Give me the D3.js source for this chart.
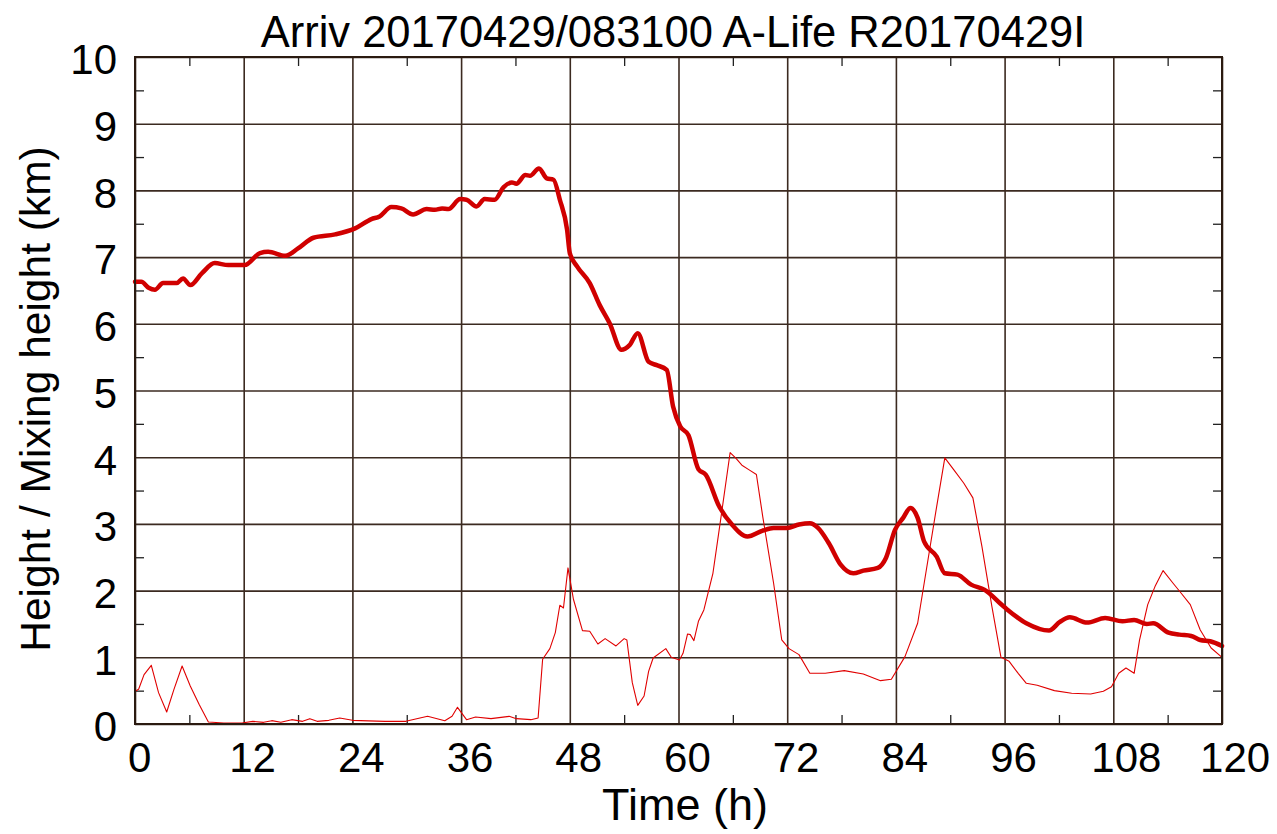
<!DOCTYPE html>
<html><head><meta charset="utf-8">
<script src="https://cdn.jsdelivr.net/npm/d3@7"></script>
<style>
html,body{margin:0;padding:0;background:#fff;}
text{font-family:"Liberation Sans",Arial,sans-serif;fill:#000;}
</style></head>
<body><svg id="c" width="1277" height="834"></svg>
<script>
const titleText = "Arriv 20170429/083100 A-Life R20170429I";
const xLabel = "Time (h)";
const yLabel = "Height / Mixing height (km)";
const xTicks = [0,12,24,36,48,60,72,84,96,108,120];
const yTicks = [0,1,2,3,4,5,6,7,8,9,10];
const xMinor = [6,18,30,42,54,66,78,90,102,114];
const yMinor = [0.5,1.5,2.5,3.5,4.5,5.5,6.5,7.5,8.5,9.5];

// trajectory height (thick)
const trajT = [0,0.7,1.5,2.2,3.1,4.6,5.3,6.1,7.4,8.8,10.3,12.1,13.8,14.7,16.6,18.0,19.7,22.1,24.3,26.1,27.0,28.3,29.4,30.7,32.2,33.1,33.9,34.6,35.9,36.6,37.7,38.6,39.7,40.7,41.6,42.1,43.1,43.6,44.6,45.45,46.2,46.9,47.7,48.0,48.8,50.2,51.3,52.4,53.7,54.6,55.5,56.7,57.6,58.7,59.4,60.2,61.1,62.2,63.0,64.5,65.9,67.6,69.3,70.5,72.0,73.3,74.5,75.4,76.6,77.9,79.3,80.4,82.0,82.9,83.9,84.8,85.6,86.4,87.1,88.5,89.4,90.8,92.3,93.8,95.9,98.4,100.9,102.1,103.2,105.1,107.1,109.0,110.3,111.7,112.4,114.1,115.3,116.6,117.6,118.7,120];
const trajH = [6.63,6.63,6.54,6.51,6.61,6.61,6.68,6.58,6.76,6.91,6.88,6.88,7.06,7.08,7.02,7.13,7.29,7.34,7.43,7.57,7.61,7.75,7.73,7.64,7.72,7.71,7.73,7.72,7.87,7.86,7.76,7.87,7.86,8.05,8.12,8.10,8.23,8.22,8.33,8.18,8.16,7.86,7.41,7.06,6.86,6.61,6.28,6.01,5.61,5.68,5.86,5.43,5.38,5.31,4.76,4.46,4.33,3.82,3.74,3.26,2.99,2.81,2.90,2.94,2.94,2.99,3.01,2.94,2.71,2.39,2.26,2.30,2.34,2.49,2.91,3.09,3.24,3.09,2.74,2.51,2.26,2.24,2.09,2.01,1.76,1.51,1.40,1.53,1.60,1.52,1.59,1.54,1.56,1.50,1.51,1.37,1.34,1.32,1.26,1.24,1.17];

// mixing height (thin)
const mixT = [0,0.4,1.0,1.8,2.6,3.5,4.3,5.2,6.1,7.1,8.1,9.8,11.8,13.0,14.2,15.1,16.1,17.3,18.5,19.3,20.1,21.4,22.6,24.0,27.6,29.9,32.3,34.2,35.0,35.6,36.6,37.6,39.3,41.3,42.1,43.7,44.5,45.0,45.8,46.4,46.9,47.3,47.8,48.4,49.4,50.2,51.1,51.9,53.1,54.0,54.3,54.9,55.5,56.2,56.7,57.2,58.6,59.2,60.1,60.5,61.0,61.3,61.7,62.2,62.8,63.8,64.7,65.7,66.3,67.0,67.8,68.6,69.3,70.5,71.4,72.2,73.3,74.5,76.2,78.3,80.4,82.3,83.5,85.0,86.4,87.3,88.5,89.4,90.4,91.5,92.5,93.5,94.6,95.6,96.5,97.5,98.4,99.6,101.5,103.4,105.5,106.9,107.8,108.6,109.4,110.3,110.9,111.8,112.6,113.5,114.6,115.5,116.5,117.6,118.8,120];
const mixH = [0.49,0.52,0.74,0.88,0.47,0.18,0.52,0.87,0.57,0.29,0.03,0.015,0.015,0.04,0.025,0.05,0.025,0.065,0.04,0.08,0.04,0.055,0.09,0.055,0.04,0.04,0.115,0.05,0.115,0.25,0.065,0.105,0.08,0.115,0.08,0.065,0.09,0.97,1.13,1.37,1.78,1.74,2.34,1.87,1.40,1.39,1.20,1.28,1.17,1.28,1.26,0.62,0.28,0.42,0.79,0.99,1.13,1.0,0.96,1.06,1.35,1.34,1.25,1.54,1.71,2.26,3.11,4.07,3.99,3.88,3.81,3.74,3.11,2.11,1.26,1.13,1.04,0.76,0.76,0.80,0.75,0.65,0.67,1.01,1.51,2.26,3.26,3.99,3.81,3.61,3.39,2.66,1.76,1.00,0.94,0.76,0.61,0.58,0.50,0.46,0.45,0.49,0.56,0.76,0.84,0.76,1.26,1.79,2.06,2.30,2.11,1.96,1.79,1.41,1.14,1.00];

const W = 1277, H = 834;
const m = {left:135, right:55, top:57, bottom:110};
const iw = W - m.left - m.right, ih = H - m.top - m.bottom;
const svg = d3.select("#c");
const g = svg.append("g").attr("transform",`translate(${m.left},${m.top})`);
const x = d3.scaleLinear().domain([0,120]).range([0,iw]);
const y = d3.scaleLinear().domain([0,10]).range([ih,0]);
const gridCol = "#3b2a20";
const tickFont = 42;

// grid + labels
const gx = g.append("g").attr("transform",`translate(0,${ih})`)
  .call(d3.axisBottom(x).tickValues(xTicks).tickSize(-ih).tickPadding(18).tickFormat(d3.format("d")));
gx.select(".domain").remove();
gx.selectAll("line").attr("stroke",gridCol).attr("stroke-width",1.6);
gx.selectAll("text").attr("font-size",tickFont).attr("dy","0.71em")
  .attr("dx",d=>(0.1*String(d).length)+"em");

const gy = g.append("g")
  .call(d3.axisLeft(y).tickValues(yTicks).tickSize(-iw).tickPadding(18).tickFormat(d3.format("d")));
gy.select(".domain").remove();
gy.selectAll("line").attr("stroke",gridCol).attr("stroke-width",1.6);
gy.selectAll("text").attr("font-size",tickFont).attr("dy","0.4em");

// minor inward ticks
function minor(axis, tr){
  const a = g.append("g").attr("transform",tr).call(axis.tickSize(-9).tickFormat(""));
  a.select(".domain").remove();
  a.selectAll("line").attr("stroke","#222").attr("stroke-width",1.3);
}
minor(d3.axisBottom(x).tickValues(xMinor), `translate(0,${ih})`);
minor(d3.axisTop(x).tickValues(xMinor), `translate(0,0)`);
minor(d3.axisLeft(y).tickValues(yMinor), `translate(0,0)`);
minor(d3.axisRight(y).tickValues(yMinor), `translate(${iw},0)`);

// series
const thin = d3.line().x((d,i)=>x(mixT[i])).y(d=>y(d)).curve(d3.curveLinear);
g.append("path").datum(mixH).attr("d",thin).attr("fill","none")
  .attr("stroke","#e00000").attr("stroke-width",1.1).attr("stroke-linejoin","round");
const thick = d3.line().x((d,i)=>x(trajT[i])).y(d=>y(d)).curve(d3.curveMonotoneX);
g.append("path").datum(trajH).attr("d",thick).attr("fill","none")
  .attr("stroke","#d00000").attr("stroke-width",4.5).attr("stroke-linejoin","round").attr("stroke-linecap","round");

// frame
g.append("rect").attr("x",0).attr("y",0).attr("width",iw).attr("height",ih)
  .attr("fill","none").attr("stroke","#2a1a10").attr("stroke-width",2);

// titles
svg.append("text").attr("x",673).attr("y",47).attr("text-anchor","middle")
  .attr("font-size",43.5).text(titleText);
svg.append("text").attr("x",685).attr("y",820).attr("text-anchor","middle")
  .attr("font-size",45).text(xLabel);
svg.append("text").attr("transform",`translate(50,399) rotate(-90)`)
  .attr("text-anchor","middle").attr("font-size",42.5).text(yLabel);
</script></body></html>
